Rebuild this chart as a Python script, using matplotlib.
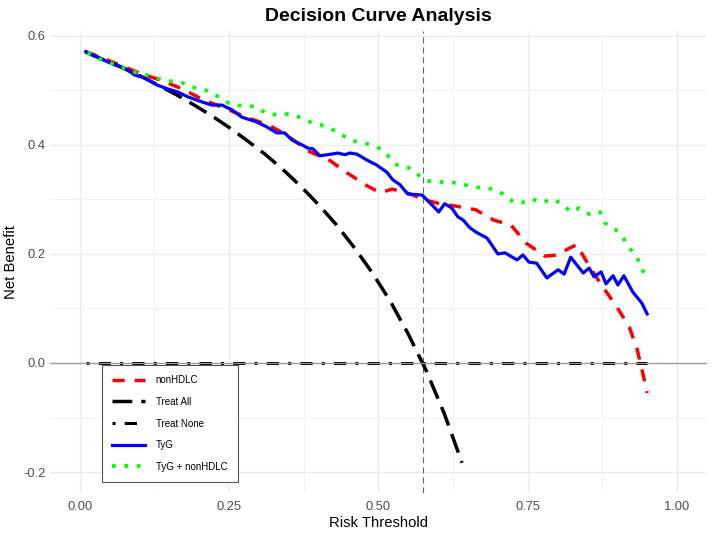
import matplotlib
matplotlib.use("Agg")
import matplotlib.pyplot as plt
import numpy as np

plt.rcParams["font.family"] = ["Liberation Sans", "DejaVu Sans"]

# ================================
# Data
# ================================
thr_tyg = [0.010, 0.047, 0.075, 0.092, 0.109, 0.129, 0.146, 0.164, 0.181, 0.204,
           0.221, 0.238, 0.255, 0.271, 0.296, 0.313, 0.330, 0.343, 0.355, 0.372,
           0.382, 0.390, 0.402, 0.415, 0.432, 0.444, 0.452, 0.464, 0.481, 0.497,
           0.514, 0.524, 0.536, 0.549, 0.573, 0.586, 0.601, 0.611, 0.623, 0.633,
           0.642, 0.653, 0.665, 0.682, 0.700, 0.712, 0.732, 0.742, 0.752, 0.765,
           0.782, 0.801, 0.811, 0.822, 0.843, 0.853, 0.861, 0.873, 0.881, 0.893,
           0.901, 0.911, 0.926, 0.941, 0.950]
nb_tyg = [0.571, 0.552, 0.541, 0.528, 0.523, 0.510, 0.503, 0.497, 0.488, 0.479,
          0.473, 0.473, 0.464, 0.451, 0.442, 0.433, 0.422, 0.422, 0.409, 0.400,
          0.394, 0.393, 0.380, 0.382, 0.385, 0.382, 0.385, 0.383, 0.372, 0.363,
          0.350, 0.336, 0.327, 0.310, 0.308, 0.294, 0.277, 0.292, 0.284, 0.268,
          0.262, 0.248, 0.239, 0.229, 0.200, 0.202, 0.189, 0.198, 0.185, 0.183,
          0.156, 0.171, 0.163, 0.194, 0.165, 0.174, 0.158, 0.167, 0.145, 0.160,
          0.143, 0.160, 0.130, 0.110, 0.090]

thr_hdl = [0.010, 0.059, 0.099, 0.134, 0.171, 0.206, 0.246, 0.280, 0.315, 0.348,
           0.382, 0.419, 0.447, 0.481, 0.503, 0.523, 0.553, 0.578, 0.603, 0.628,
           0.663, 0.693, 0.722, 0.747, 0.779, 0.801, 0.817, 0.832, 0.854, 0.876,
           0.898, 0.920, 0.933, 0.943, 0.950]
nb_hdl = [0.571, 0.550, 0.532, 0.519, 0.503, 0.483, 0.466, 0.450, 0.437, 0.417,
          0.389, 0.371, 0.349, 0.325, 0.312, 0.319, 0.310, 0.299, 0.292, 0.288,
          0.281, 0.262, 0.253, 0.220, 0.196, 0.198, 0.209, 0.217, 0.176, 0.139,
          0.105, 0.066, 0.026, -0.020, -0.055]

thr_both = [0.013, 0.032, 0.052, 0.070, 0.089, 0.107, 0.127, 0.147, 0.168, 0.186,
            0.204, 0.223, 0.240, 0.256, 0.275, 0.295, 0.313, 0.332, 0.352, 0.370,
            0.390, 0.409, 0.427, 0.444, 0.462, 0.481, 0.501, 0.516, 0.531, 0.548,
            0.564, 0.581, 0.600, 0.620, 0.640, 0.658, 0.675, 0.693, 0.712, 0.727,
            0.740, 0.757, 0.774, 0.791, 0.807, 0.822, 0.836, 0.853, 0.871, 0.879,
            0.896, 0.910, 0.920, 0.933, 0.941, 0.950]
nb_both = [0.569, 0.558, 0.550, 0.543, 0.534, 0.530, 0.523, 0.517, 0.516, 0.506,
           0.503, 0.495, 0.482, 0.473, 0.472, 0.470, 0.457, 0.455, 0.457, 0.450,
           0.440, 0.435, 0.426, 0.415, 0.406, 0.402, 0.394, 0.380, 0.363, 0.360,
           0.347, 0.334, 0.332, 0.332, 0.328, 0.323, 0.321, 0.319, 0.308, 0.294,
           0.294, 0.301, 0.294, 0.301, 0.292, 0.277, 0.284, 0.273, 0.277, 0.257,
           0.246, 0.229, 0.211, 0.194, 0.174, 0.152]

thr_all = [0.01, 0.04, 0.07, 0.10, 0.13, 0.16, 0.19, 0.22, 0.25, 0.28, 0.31,
           0.34, 0.37, 0.40, 0.43, 0.46, 0.49, 0.52, 0.55, 0.58, 0.61, 0.64]
nb_all = [0.570, 0.556, 0.542, 0.527, 0.510, 0.493, 0.474, 0.454, 0.432, 0.408,
          0.383, 0.355, 0.324, 0.290, 0.253, 0.211, 0.165, 0.113, 0.053, -0.014,
          -0.092, -0.183]

thr_none = [0.01, 0.95]
nb_none = [0.0, 0.0]

cutoff = 0.5745

# ================================
# Plot
# ================================
fig = plt.figure(figsize=(7.14, 5.33), dpi=100)
ax = fig.add_axes([0.070, 0.075, 0.920, 0.867])

ax.plot(thr_hdl, nb_hdl, color="#FF0000", lw=2.5, dashes=(3.5, 2.9),
        dash_capstyle="butt", label="nonHDLC", zorder=3)
ax.plot(thr_all, nb_all, color="black", lw=2.5, dashes=(5.7, 2.6),
        dash_capstyle="butt", label="Treat All", zorder=3)
ax.plot(thr_none, nb_none, color="black", lw=2.2, dashes=(1, 3, 4, 3),
        dash_capstyle="butt", label="Treat None", zorder=3)
ax.plot(thr_tyg, nb_tyg, color="#0000FF", lw=2.3, label="TyG", zorder=4)
ax.plot(thr_both, nb_both, color="#00FF00", lw=2.7, dashes=(1, 2.3),
        dash_capstyle="butt", label="TyG + nonHDLC", zorder=5)

ax.axhline(0, color="#999999", lw=0.9, zorder=3.5)
ax.axvline(cutoff, color="#666666", lw=0.8, dashes=(5.5, 3.5), zorder=2)

ax.set_xlim(-0.05, 1.05)
ax.set_ylim(-0.2385, 0.609)
ax.set_xticks([0, 0.25, 0.5, 0.75, 1.0])
ax.set_xticklabels(["0.00", "0.25", "0.50", "0.75", "1.00"])
ax.set_yticks([-0.2, 0.0, 0.2, 0.4, 0.6])
ax.set_yticklabels(["-0.2", "0.0", "0.2", "0.4", "0.6"])
ax.set_xticks([0.125, 0.375, 0.625, 0.875], minor=True)
ax.set_yticks([-0.1, 0.1, 0.3, 0.5], minor=True)
ax.grid(which="major", color="#ebebeb", lw=1.0)
ax.grid(which="minor", color="#f0f0f0", lw=0.6)
ax.set_axisbelow(True)
ax.tick_params(which="both", length=0, labelsize=9.3, labelcolor="#4d4d4d")
ax.tick_params(axis="x", pad=6)
ax.tick_params(axis="y", pad=3)
for s in ax.spines.values():
    s.set_visible(False)

ax.set_xlabel("Risk Threshold", fontsize=10.7, labelpad=2)
ax.set_ylabel("Net Benefit", fontsize=10.7, labelpad=4)
ax.set_title("Decision Curve Analysis", fontsize=14, fontweight="bold", pad=7)

leg = ax.legend(loc="upper left", bbox_to_anchor=(0.079, 0.277), borderaxespad=0,
                fontsize=7, handlelength=3.4, handletextpad=1.1, borderpad=1.05,
                labelspacing=1.2, fancybox=False, framealpha=1, edgecolor="#555555")
leg.get_frame().set_linewidth(0.8)
leg.set_zorder(10)

plt.savefig("out.png", dpi=100)
plt.close()
